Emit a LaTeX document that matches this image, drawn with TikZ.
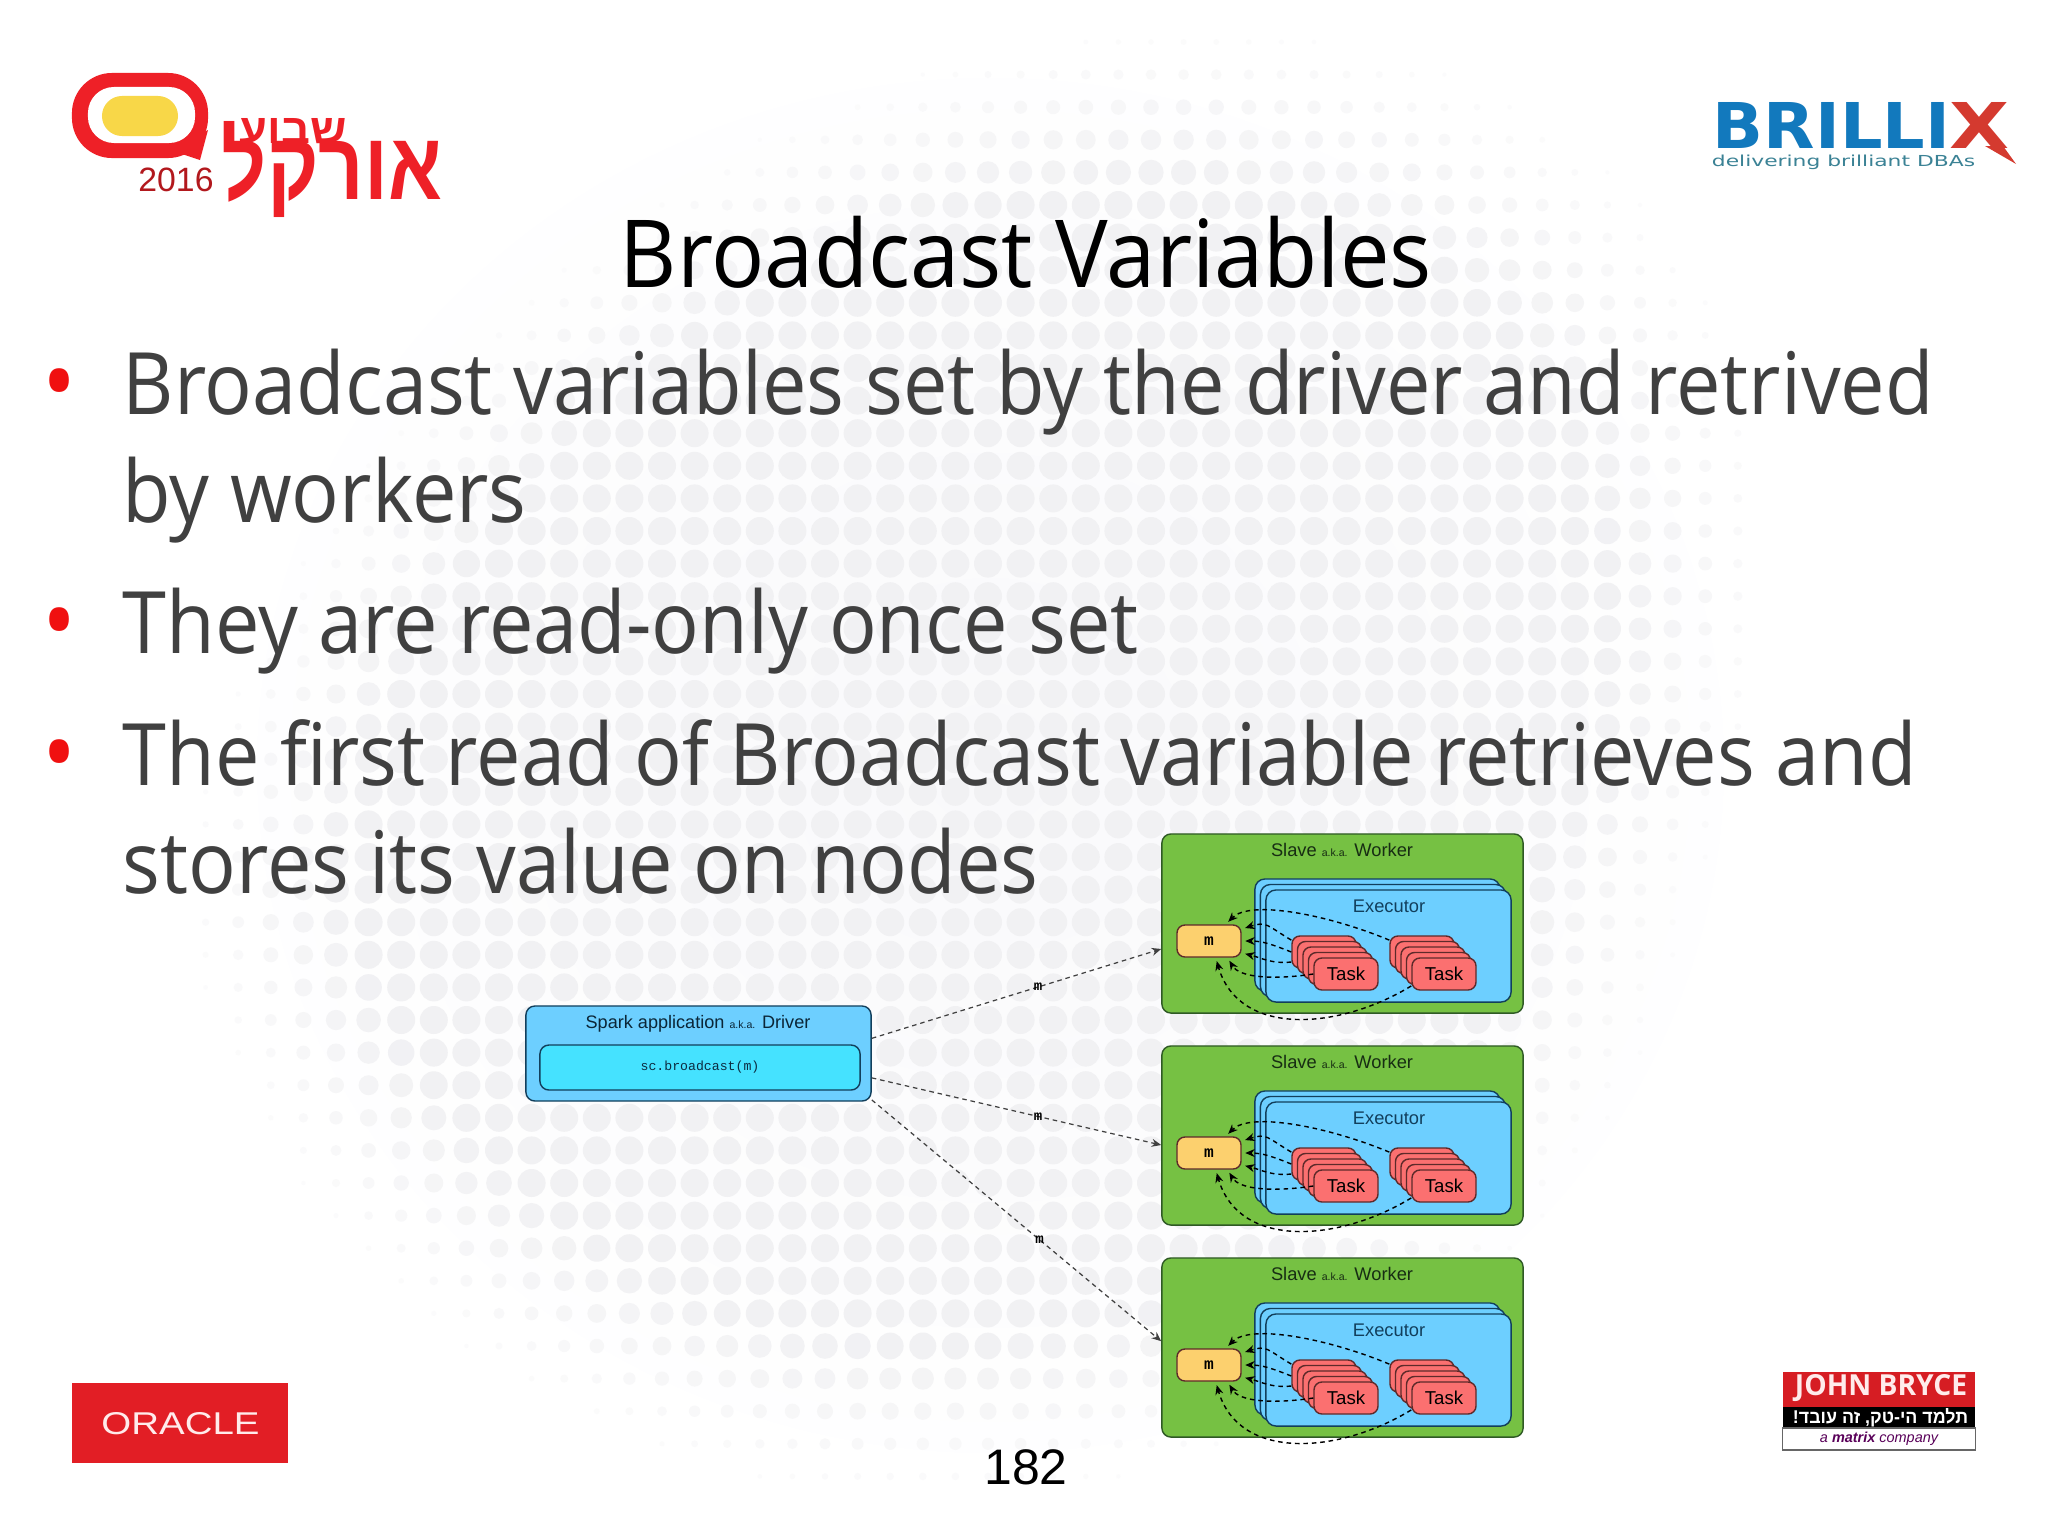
\documentclass[tikz,border=0pt]{standalone}
\usepackage{fontspec}
\setmainfont[FakeStretch=0.92]{Open Sans}
\newfontfamily\titlefont[FakeStretch=0.942]{Open Sans}
\newfontfamily\helv{Liberation Sans}
\newfontfamily\cour{Liberation Mono}
\newfontfamily\heavy{DejaVu Sans}
\newfontfamily\hebfont[Script=Hebrew]{Liberation Sans}
\TeXXeTstate=1
\usetikzlibrary{arrows.meta,calc,positioning}
\definecolor{dotgrey}{HTML}{F1F1F3}
\definecolor{hazegrey}{HTML}{F9F9FB}
\definecolor{bodygrey}{HTML}{404040}
\definecolor{bulletred}{HTML}{F01010}
\definecolor{workergreen}{HTML}{76C143}
\definecolor{workerline}{HTML}{2F5A25}
\definecolor{execblue}{HTML}{6DCFFF}
\definecolor{execline}{HTML}{123F5C}
\definecolor{codeblue}{HTML}{45E2FF}
\definecolor{taskred}{HTML}{FB7070}
\definecolor{taskline}{HTML}{5E2A2A}
\definecolor{myellow}{HTML}{FCD06E}
\definecolor{logored}{HTML}{EE2027}
\definecolor{logoyellow}{HTML}{F8D748}
\definecolor{brillixblue}{HTML}{1279BD}
\definecolor{brillixred}{HTML}{D43A2F}
\definecolor{brillixteal}{HTML}{3B8295}
\tikzset{
    >={Stealth[length=0.095cm,width=0.08cm]},
    logotext/.style={
           inner sep=0pt,
           outer sep=0pt},
    heading/.style={
           anchor=base,
           inner sep=0pt,
           font=\titlefont\fontsize{26.7pt}{30pt}\selectfont},
    bodyline/.style={
           anchor=base west,
           inner sep=0pt,
           text=bodygrey,
           font=\fontsize{24.5pt}{28pt}\selectfont},
    bulletmark/.style={
           anchor=base,
           inner sep=0pt,
           text=bulletred,
           font=\fontsize{28pt}{30pt}\selectfont},
    worker/.style={
           draw=workerline, fill=workergreen,
           line width=0.4pt,
           rounded corners=0.09cm,
           minimum width=3.61cm,
           minimum height=1.79cm,
           inner sep=0pt},
    executor/.style={
           draw=execline, fill=execblue,
           line width=0.4pt,
           rounded corners=0.1cm,
           minimum width=2.45cm,
           minimum height=1.12cm,
           inner sep=0pt},
    taskbox/.style={
           draw=taskline, fill=taskred,
           line width=0.4pt,
           rounded corners=0.08cm,
           minimum width=0.64cm,
           minimum height=0.32cm,
           inner sep=0pt,
           font=\helv\fontsize{5.3pt}{6pt}\selectfont},
    mbox/.style={
           draw=taskline, fill=myellow,
           line width=0.4pt,
           rounded corners=0.08cm,
           minimum width=0.64cm,
           minimum height=0.32cm,
           inner sep=0pt,
           font=\cour\bfseries\fontsize{4.6pt}{5pt}\selectfont},
    caption/.style={
           inner sep=0pt,
           font=\helv\fontsize{5.2pt}{6pt}\selectfont},
    msglabel/.style={
           inner sep=0pt,
           font=\cour\bfseries\fontsize{4pt}{5pt}\selectfont},
    pil/.style={
           ->,
           draw=black!75,
           line width=0.35pt,
           dash pattern=on 1.3pt off 1.1pt},
    wire/.style={
           ->,
           line width=0.4pt,
           dash pattern=on 1.3pt off 1.1pt,
           shorten >=1pt}
}
\newcommand{\aka}{{\fontsize{3pt}{4pt}\selectfont a.k.a.}}
\begin{document}
\begin{tikzpicture}[x=0.01cm,y=-0.01cm]
          \useasboundingbox (0,0) rectangle (2048,1536);
          \fill[white] (0,0) rectangle (2048,1536);
          % background dots
          \shade[inner color=hazegrey, outer color=white] (990,765) ellipse (800 and 750);
          \foreach \i in {-3,...,48}{
            \foreach \j in {0,...,45}{
              \pgfmathsetmacro\dx{173+32.6*\i}
              \pgfmathsetmacro\dy{42+32.6*\j}
              \pgfmathsetmacro\cx{935+max(0,900-\dy)*0.3}
              \pgfmathsetmacro\dd{sqrt(((\dx-\cx)/770)^2+((\dy-765)/735)^2)}
              \pgfmathsetmacro\rr{min(14,2+(1-\dd)*55)}
              \pgfmathsetmacro\tone{min(100,25+(1-\dd)*350)}
              \ifdim\dd pt<1pt
                \fill[dotgrey!\tone!white] (\dx,\dy) circle[radius=\rr];
              \fi
            }
          }
          % slide text
          \node[heading](title) at (1026,287) {Broadcast Variables};
          \node[bulletmark](bul1) at (60,416) {•};
          \node[bodyline](line1) at (122,414) {Broadcast variables set by the driver and retrived};
          \node[bodyline](line2) at (122,522) {by workers};
          \node[bulletmark](bul2) at (60,655) {•};
          \node[bodyline](line3) at (122,653) {They are read-only once set};
          \node[bulletmark](bul3) at (60,787) {•};
          \node[bodyline](line4) at (122,785) {The first read of Broadcast variable retrieves and};
          \node[bodyline](line5) at (122,893) {stores its value on nodes};
          \node[anchor=base,inner sep=0pt,font=\helv\fontsize{14.2pt}{16pt}\selectfont](pagenum) at (1026,1484) {182};
          % driver
          \node[worker, draw=execline, fill=execblue, minimum width=3.45cm, minimum height=0.95cm](driver) at (698.5,1053.5) {};
          \node[worker, draw=execline, fill=codeblue, minimum width=3.2cm, minimum height=0.45cm, text=execline!70!black](code) at (700,1067.5) {\cour\fontsize{3.75pt}{5pt}\selectfont sc.broadcast(m)};
          \node[caption, anchor=base, text=execline!60!black, font=\helv\fontsize{5.15pt}{6pt}\selectfont](drivertext) at (698,1028) {Spark application \aka{} Driver};
          % workers
          \foreach \w/\off in {1/0,2/212,3/424}{
            \begin{scope}[yshift=-\off*0.01cm]
              \node[worker](worker\w) at (1342.5,923.5) {};
              \node[caption, anchor=base, text=workerline!50!black](workertext\w) at (1342,856) {Slave \aka{} Worker};
              \node[executor](execA\w) at (1377.5,935) {};
              \node[executor](execB\w) at (1383,940.5) {};
              \node[executor](execC\w) at (1388.5,946) {};
              \node[caption, text=execline](exectext\w) at (1389,906) {Executor};
              \node[mbox](m\w) at (1209,941) {m};
              \foreach \n/\k in {a/0,b/98}{
                \node[taskbox](task\n1\w) at (1324+\k,952) {};
                \node[taskbox](task\n2\w) at (1329.5+\k,957.5) {};
                \node[taskbox](task\n3\w) at (1335+\k,963) {};
                \node[taskbox](task\n4\w) at (1340.5+\k,968.5) {};
                \node[taskbox](task\n5\w) at (1346+\k,974) {Task};
              }
              \draw[wire] (taskb1\w.160) .. controls +(-60,-25) and +(25,-25) .. (m\w.45);
              \draw[wire] (taska1\w.160) .. controls +(-25,-15) and +(25,-8) .. (m\w.20);
              \draw[wire] (taska1\w.180) .. controls +(-20,-8) and +(20,0) .. (m\w.east);
              \draw[wire] (taska1\w.197) .. controls +(-20,2) and +(20,5) .. (m\w.-20);
              \draw[wire] (taska5\w.180) .. controls +(-40,6) and +(12,20) .. (m\w.-42);
              \draw[wire] (taskb5\w.200) .. controls +(-72,44) and +(23,80) .. (m\w.-68);
            \end{scope}
          }
          % messages
          \draw[pil] (driver.5) -- node[pos=.575,msglabel](msg1){m} (worker1.188);
          \draw[pil] (driver.-8) -- node[pos=.575,msglabel](msg2){m} (worker2.183);
          \draw[pil] (driver.-15) -- node[pos=.58,msglabel](msg3){m} (worker3.178);
          % week logo
          \node[fill=logored, rounded corners=0.4cm, minimum width=1.36cm, minimum height=0.85cm, inner sep=0pt](bubble) at (140,115.5) {};
          \fill[logored] (170,150) -- (200,160) -- (208,130) -- cycle;
          \node[fill=white, rounded corners=0.26cm, minimum width=1.07cm, minimum height=0.56cm, inner sep=0pt](bubblein) at (141.5,115) {};
          \node[fill=logoyellow, rounded corners=0.2cm, minimum width=0.76cm, minimum height=0.4cm, inner sep=0pt](bubblecore) at (140,116) {};
          \node[logotext, text=logored](weekword) at (293,131) {\resizebox{1.07cm}{0.25cm}{\hebfont\bfseries\beginR שבוע\endR}};
          \node[logotext, text=logored](oracleword) at (332,169) {\resizebox{2.2cm}{0.78cm}{\hebfont\bfseries\beginR אורקל\endR}};
          \node[logotext, text=logored!75!black, font=\helv\fontsize{9.6pt}{10pt}\selectfont](weekyear) at (176,180) {2016};
          % brillix logo
          \node[logotext, text=brillixblue](brillix) at (1831.5,125) {\resizebox{2.37cm}{0.46cm}{\heavy\bfseries BRILLI}};
          \node[logotext, text=brillixred](brillixx) at (1979,125) {\resizebox{0.6cm}{0.46cm}{\heavy\bfseries X}};
          \fill[brillixred] (1985,146) -- (2003,146) -- (2016,164) -- cycle;
          \node[logotext, text=brillixteal](tagline) at (1843.5,162.5) {\resizebox{2.63cm}{0.115cm}{\heavy delivering brilliant DBAs}};
          % john bryce logo
          \node[fill=logored!90!black, minimum width=1.92cm, minimum height=0.35cm, inner sep=0pt](jbred) at (1879,1389.5) {};
          \node[fill=black, minimum width=1.92cm, minimum height=0.21cm, inner sep=0pt](jbblack) at (1879,1417.5) {};
          \node[draw=black!60, fill=white, line width=0.3pt, minimum width=1.92cm, minimum height=0.22cm, inner sep=0pt](jbwhite) at (1879,1439) {};
          \node[logotext, text=red!8!white](jbname) at (1881,1388.5) {\resizebox{1.72cm}{0.21cm}{\bfseries JOHN BRYCE}};
          \node[logotext, text=white](jbslogan) at (1880.5,1417.5) {\resizebox{1.75cm}{0.15cm}{\hebfont\bfseries\beginR תלמד הי-טק, זה עובד!\endR}};
          \node[logotext, text=violet!70!black](jbmatrix) at (1879,1439) {\resizebox{1.18cm}{!}{\helv\itshape a \textbf{matrix} company}};
          % oracle logo
          \node[fill=logored!95!black, minimum width=2.16cm, minimum height=0.8cm, inner sep=0pt](oraclebox) at (180,1423) {};
          \node[logotext, text=red!8!white](oracletext) at (180.5,1424) {\resizebox{1.58cm}{0.22cm}{\helv ORACLE}};
\end{tikzpicture}
\end{document}
